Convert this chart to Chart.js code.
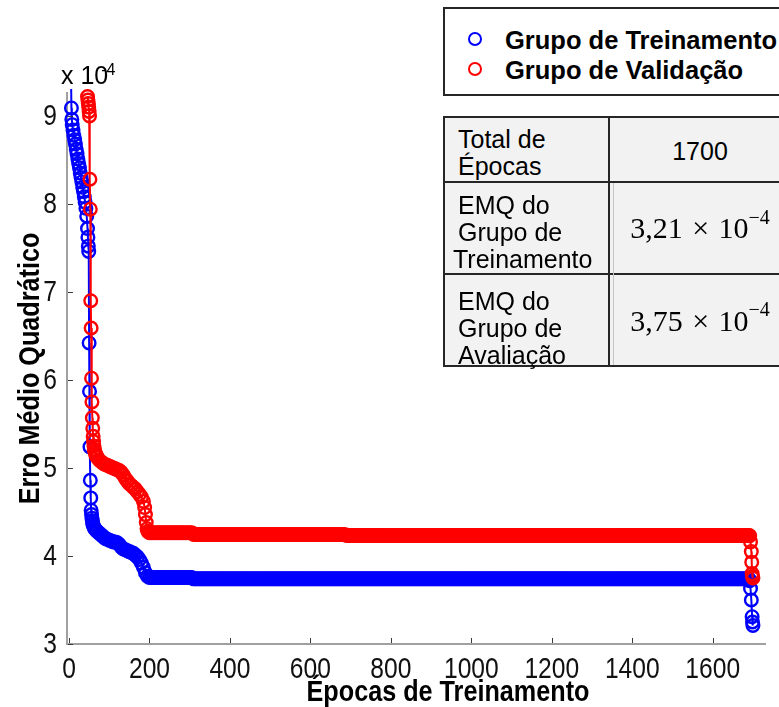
<!DOCTYPE html>
<html>
<head>
<meta charset="utf-8">
<script src="https://cdn.jsdelivr.net/npm/chart.js@4.4.1/dist/chart.umd.min.js"></script>
<style>
  html, body { margin: 0; padding: 0; background: #fff; }
  body { position: relative; width: 779px; height: 707px; overflow: hidden;
         font-family: 'Liberation Sans', Arial, sans-serif; color: #000; }
  canvas { position: absolute; left: 0; top: 0; }
  .abs { position: absolute; white-space: nowrap; }
  #expo { left: 61px; top: 60px; font-size: 25px; line-height: 30px; }
  #expo .sup { font-size: 16px; position: relative; top: -8.8px; margin-left: -7px; }
  #legendBox { left: 443px; top: 7px; width: 400px; height: 89px; box-sizing: border-box;
               border: 2px solid #262626; background: #fff; }
  .mark { position: absolute; width: 14px; height: 14px; box-sizing: border-box;
          border: 2.5px solid; border-radius: 50%; }
  .legText { position: absolute; left: 505px; font-weight: bold; font-size: 25.5px; line-height: 30px; white-space: nowrap; }
  #frame { left: 443px; top: 116px; width: 347px; height: 251px; box-sizing: border-box;
           border: 2px solid #262626; background: #f2f2f2; }
  .hline { position: absolute; left: 443px; width: 347px; height: 2px; background: #262626; }
  .vline { position: absolute; width: 2px; background: #262626; }
  .cellL { position: absolute; left: 458px; font-size: 25px; line-height: 27px; white-space: nowrap; }
  .cellR { position: absolute; left: 610px; width: 180px; display: flex; align-items: center;
           justify-content: center; white-space: nowrap; }
  .num { font-size: 25px; }
  .math { font-family: 'Liberation Serif', 'Times New Roman', serif; font-size: 30px; word-spacing: 2px; }
  .math .sup { font-size: 20px; position: relative; top: -11px; }
</style>
</head>
<body>
<canvas id="chart" width="779" height="707"></canvas>
<div id="expo" class="abs">x 10<span class="sup">-4</span></div>
<div id="legendBox" class="abs"></div>
<div id="legendItems"></div>
<div id="frame" class="abs"></div>
<div class="hline" style="top:181px"></div>
<div class="hline" style="top:273px"></div>
<div class="vline" style="left:608px; top:116px; height:251px"></div>
<div class="vline" style="left:613px; top:183px; height:182px; width:1px; background:#c4c4c4"></div>
<div class="cellL" style="top:126px">Total de<br>Épocas</div>
<div class="cellL" style="top:192px">EMQ do<br>Grupo de<br><span style="margin-left:-5px">Treinamento</span></div>
<div class="cellL" style="top:287.5px">EMQ do<br>Grupo de<br>Avaliação</div>
<div class="cellR num" id="totalCell" style="top:118.5px; height:65.7px"></div>
<div class="cellR math" id="trainCell" style="top:182.7px; height:91.3px"></div>
<div class="cellR math" id="valCell" style="top:275px; height:91.7px"></div>

<script>
// Mean squared error per training epoch, in units of 1e-4.
const xTicks = [0, 200, 400, 600, 800, 1000, 1200, 1400, 1600];
const yTicks = [3, 4, 5, 6, 7, 8, 9];

// Training set: first epochs (explicit epoch numbers)
const trainHeadEpochs = [4, 6, 7, 8, 10, 12, 14, 16, 18, 20, 22, 24, 26, 28, 30, 32, 34, 36, 38, 40,
  42, 44, 46, 47, 48, 49, 50, 51, 52, 53, 54, 55, 56, 57, 58, 59, 60, 62, 64, 66, 68, 70,
  75, 80, 85, 90, 95, 100, 105, 110, 115, 120, 125, 130, 135, 140, 145, 150, 155, 160,
  165, 170, 175, 180, 185, 190, 195];
const trainHeadValues = [9.8, 9.09, 8.96, 8.9, 8.84, 8.78, 8.73, 8.68, 8.62, 8.57, 8.51, 8.46, 8.41, 8.35, 8.3, 8.25, 8.19, 8.14, 8.08, 8.02,
  7.95, 7.86, 7.72, 7.62, 7.52, 7.46, 6.42, 5.87, 5.24, 4.86, 4.66, 4.52, 4.47, 4.43, 4.4, 4.37, 4.35, 4.33, 4.31, 4.3, 4.29, 4.28,
  4.26, 4.24, 4.22, 4.2, 4.19, 4.18, 4.17, 4.16, 4.16, 4.15, 4.13, 4.1, 4.08, 4.07, 4.06, 4.05, 4.04, 4.03,
  4.01, 3.99, 3.96, 3.92, 3.87, 3.81, 3.77];

// Validation set: first epochs
const valHeadEpochs = [46, 47, 48, 49, 50, 51, 52, 53, 54, 55, 56, 57, 58, 59, 60, 61, 62, 63, 64, 66, 68, 70,
  75, 80, 85, 90, 95, 100, 105, 110, 115, 120, 125, 130, 135, 140, 145, 150, 155, 160, 165, 170, 175, 180, 185,
  188, 190, 192, 194, 196];
const valHeadValues = [9.22, 9.18, 9.14, 9.1, 9.05, 9.0, 8.28, 7.94, 6.9, 6.59, 6.02, 5.75, 5.57, 5.45, 5.36, 5.3, 5.25, 5.21, 5.19, 5.16, 5.14, 5.12,
  5.09, 5.07, 5.05, 5.04, 5.03, 5.02, 5.01, 5.0, 4.99, 4.98, 4.97, 4.95, 4.92, 4.88, 4.85, 4.82, 4.8, 4.78, 4.76, 4.73, 4.7, 4.67, 4.62,
  4.55, 4.47, 4.38, 4.31, 4.28];

// Long flat stretch, one value every 5 epochs starting at epoch 200
const plateauStart = 200;
const plateauStep = 5;
const trainPlateau = [
  3.755, 3.755, 3.755, 3.755, 3.755, 3.755, 3.755, 3.755, 3.755, 3.755, 3.755, 3.755, 3.755, 3.755, 3.755, 3.755, 3.755, 3.755, 3.755, 3.755,
  3.755, 3.755, 3.74, 3.74, 3.74, 3.74, 3.74, 3.74, 3.74, 3.74, 3.74, 3.74, 3.74, 3.74, 3.74, 3.74, 3.74, 3.74, 3.74, 3.74,
  3.74, 3.74, 3.74, 3.74, 3.74, 3.74, 3.74, 3.74, 3.74, 3.74, 3.74, 3.74, 3.74, 3.74, 3.74, 3.74, 3.74, 3.74, 3.74, 3.74,
  3.74, 3.74, 3.74, 3.74, 3.74, 3.74, 3.74, 3.74, 3.74, 3.74, 3.74, 3.74, 3.74, 3.74, 3.74, 3.74, 3.74, 3.74, 3.74, 3.74,
  3.74, 3.74, 3.74, 3.74, 3.74, 3.74, 3.74, 3.74, 3.74, 3.74, 3.74, 3.74, 3.74, 3.74, 3.74, 3.74, 3.74, 3.74, 3.74, 3.74,
  3.74, 3.74, 3.74, 3.74, 3.74, 3.74, 3.74, 3.74, 3.74, 3.74, 3.74, 3.74, 3.74, 3.74, 3.74, 3.74, 3.74, 3.74, 3.74, 3.74,
  3.74, 3.74, 3.74, 3.74, 3.74, 3.74, 3.74, 3.74, 3.74, 3.74, 3.74, 3.74, 3.74, 3.74, 3.74, 3.74, 3.74, 3.74, 3.74, 3.74,
  3.74, 3.74, 3.74, 3.74, 3.74, 3.74, 3.74, 3.74, 3.74, 3.74, 3.74, 3.74, 3.74, 3.74, 3.74, 3.74, 3.74, 3.74, 3.74, 3.74,
  3.74, 3.74, 3.74, 3.74, 3.74, 3.74, 3.74, 3.74, 3.74, 3.74, 3.74, 3.74, 3.74, 3.74, 3.74, 3.74, 3.74, 3.74, 3.74, 3.74,
  3.74, 3.74, 3.74, 3.74, 3.74, 3.74, 3.74, 3.74, 3.74, 3.74, 3.74, 3.74, 3.74, 3.74, 3.74, 3.74, 3.74, 3.74, 3.74, 3.74,
  3.74, 3.74, 3.74, 3.74, 3.74, 3.74, 3.74, 3.74, 3.74, 3.74, 3.74, 3.74, 3.74, 3.74, 3.74, 3.74, 3.74, 3.74, 3.74, 3.74,
  3.74, 3.74, 3.74, 3.74, 3.74, 3.74, 3.74, 3.74, 3.74, 3.74, 3.74, 3.74, 3.74, 3.74, 3.74, 3.74, 3.74, 3.74, 3.74, 3.74,
  3.74, 3.74, 3.74, 3.74, 3.74, 3.74, 3.74, 3.74, 3.74, 3.74, 3.74, 3.74, 3.74, 3.74, 3.74, 3.74, 3.74, 3.74, 3.74, 3.74,
  3.74, 3.74, 3.74, 3.74, 3.74, 3.74, 3.74, 3.74, 3.74, 3.74, 3.74, 3.74, 3.74, 3.74, 3.74, 3.74, 3.74, 3.74, 3.74, 3.74,
  3.74, 3.74, 3.74, 3.74, 3.74, 3.74, 3.74, 3.74, 3.74, 3.74, 3.74, 3.74, 3.74, 3.74, 3.74, 3.74, 3.74, 3.74, 3.74
];
const valPlateau = [
  4.265, 4.265, 4.265, 4.265, 4.265, 4.265, 4.265, 4.265, 4.265, 4.265, 4.265, 4.265, 4.265, 4.265, 4.265, 4.265, 4.265, 4.265, 4.265, 4.265,
  4.265, 4.265, 4.245, 4.245, 4.245, 4.245, 4.245, 4.245, 4.245, 4.245, 4.245, 4.245, 4.245, 4.245, 4.245, 4.245, 4.245, 4.245, 4.245, 4.245,
  4.245, 4.245, 4.245, 4.245, 4.245, 4.245, 4.245, 4.245, 4.245, 4.245, 4.245, 4.245, 4.245, 4.245, 4.245, 4.245, 4.245, 4.245, 4.245, 4.245,
  4.245, 4.245, 4.245, 4.245, 4.245, 4.245, 4.245, 4.245, 4.245, 4.245, 4.245, 4.245, 4.245, 4.245, 4.245, 4.245, 4.245, 4.245, 4.245, 4.245,
  4.245, 4.245, 4.245, 4.245, 4.245, 4.245, 4.245, 4.245, 4.245, 4.245, 4.245, 4.245, 4.245, 4.245, 4.245, 4.245, 4.245, 4.245, 4.232, 4.232,
  4.232, 4.232, 4.232, 4.232, 4.232, 4.232, 4.232, 4.232, 4.232, 4.232, 4.232, 4.232, 4.232, 4.232, 4.232, 4.232, 4.232, 4.232, 4.232, 4.232,
  4.232, 4.232, 4.232, 4.232, 4.232, 4.232, 4.232, 4.232, 4.232, 4.232, 4.232, 4.232, 4.232, 4.232, 4.232, 4.232, 4.232, 4.232, 4.232, 4.232,
  4.232, 4.232, 4.232, 4.232, 4.232, 4.232, 4.232, 4.232, 4.232, 4.232, 4.232, 4.232, 4.232, 4.232, 4.232, 4.232, 4.232, 4.232, 4.232, 4.232,
  4.232, 4.232, 4.232, 4.232, 4.232, 4.232, 4.232, 4.232, 4.232, 4.232, 4.232, 4.232, 4.232, 4.232, 4.232, 4.232, 4.232, 4.232, 4.232, 4.232,
  4.232, 4.232, 4.232, 4.232, 4.232, 4.232, 4.232, 4.232, 4.232, 4.232, 4.232, 4.232, 4.232, 4.232, 4.232, 4.232, 4.232, 4.232, 4.232, 4.232,
  4.232, 4.232, 4.232, 4.232, 4.232, 4.232, 4.232, 4.232, 4.232, 4.232, 4.232, 4.232, 4.232, 4.232, 4.232, 4.232, 4.232, 4.232, 4.232, 4.232,
  4.232, 4.232, 4.232, 4.232, 4.232, 4.232, 4.232, 4.232, 4.232, 4.232, 4.232, 4.232, 4.232, 4.232, 4.232, 4.232, 4.232, 4.232, 4.232, 4.232,
  4.232, 4.232, 4.232, 4.232, 4.232, 4.232, 4.232, 4.232, 4.232, 4.232, 4.232, 4.232, 4.232, 4.232, 4.232, 4.232, 4.232, 4.232, 4.232, 4.232,
  4.232, 4.232, 4.232, 4.232, 4.232, 4.232, 4.232, 4.232, 4.232, 4.232, 4.232, 4.232, 4.232, 4.232, 4.232, 4.232, 4.232, 4.232, 4.232, 4.232,
  4.232, 4.232, 4.232, 4.232, 4.232, 4.232, 4.232, 4.232, 4.232, 4.232, 4.232, 4.232, 4.232, 4.232, 4.232, 4.232, 4.232, 4.232, 4.232
];

// Final epochs
const trainTailEpochs = [1692, 1694, 1696, 1698, 1699, 1700];
const trainTailValues = [3.72, 3.63, 3.5, 3.31, 3.25, 3.21];
const valTailEpochs = [1692, 1694, 1696, 1697, 1698, 1699, 1700];
const valTailValues = [4.23, 4.16, 4.05, 3.93, 3.8, 3.77, 3.75];

const seriesLabels = ['Grupo de Treinamento', 'Grupo de Validação'];
const seriesColors = ['#0000ff', '#ff0000'];
const xTitle = 'Épocas de Treinamento';
const yTitle = 'Erro Médio Quadrático';

const SANS = "'Liberation Sans', Arial, sans-serif";

function buildSeries(headE, headV, plateau, tailE, tailV) {
  const pts = headE.map((e, i) => ({ x: e, y: headV[i] }));
  plateau.forEach((v, i) => pts.push({ x: plateauStart + i * plateauStep, y: v }));
  tailE.forEach((e, i) => pts.push({ x: e, y: tailV[i] }));
  return pts;
}

function seriesStyle(color, order) {
  return {
    borderColor: color, backgroundColor: color, borderWidth: 2,
    pointStyle: 'circle', pointRadius: 6.3, pointBorderWidth: 2.4,
    pointBorderColor: color, pointBackgroundColor: 'rgba(0,0,0,0)',
    pointHoverRadius: 6.3, fill: false, tension: 0, showLine: true,
    clip: { left: 12, top: 4, right: 20, bottom: 12 }, order
  };
}

// Condensed text: the narrow look comes from a horizontal squeeze of Liberation Sans
function squeezedText(ctx, text, x, y, align, sx, rot) {
  ctx.save();
  ctx.translate(x, y);
  if (rot) ctx.rotate(rot);
  ctx.scale(sx, 1);
  ctx.textAlign = align;
  ctx.fillText(text, 0, 0);
  ctx.restore();
}

// Inside tick marks, tick labels and axis titles
const axisDecor = {
  id: 'axisDecor',
  afterDraw(chart) {
    const { ctx, chartArea: a, scales: { x, y } } = chart;
    ctx.save();
    ctx.strokeStyle = '#3a3a3a';
    ctx.lineWidth = 1;
    ctx.beginPath();
    x.ticks.forEach(t => {
      const px = Math.round(x.getPixelForValue(t.value)) + 0.5;
      ctx.moveTo(px, a.bottom - 1); ctx.lineTo(px, a.bottom - 6);
    });
    y.ticks.forEach(t => {
      const py = Math.round(y.getPixelForValue(t.value)) + 0.5;
      ctx.moveTo(a.left + 1, py); ctx.lineTo(a.left + 6, py);
    });
    ctx.stroke();

    ctx.fillStyle = '#111';
    ctx.textBaseline = 'alphabetic';
    ctx.font = '30px ' + SANS;
    x.ticks.forEach(t => {
      squeezedText(ctx, String(t.value), x.getPixelForValue(t.value), a.bottom + 33.5, 'center', 0.82);
    });
    y.ticks.forEach(t => {
      squeezedText(ctx, String(t.value), a.left - 10, y.getPixelForValue(t.value) + 8.75, 'right', 0.82);
    });

    ctx.fillStyle = '#000';
    ctx.font = 'bold 30px ' + SANS;
    squeezedText(ctx, xTitle, 448, 701, 'center', 0.84);
    squeezedText(ctx, yTitle, 39, (a.top + a.bottom) / 2, 'center', 0.84, -Math.PI / 2);
    ctx.restore();
  }
};

const chart = new Chart(document.getElementById('chart'), {
  type: 'line',
  data: {
    datasets: [
      Object.assign({ label: seriesLabels[0],
        data: buildSeries(trainHeadEpochs, trainHeadValues, trainPlateau, trainTailEpochs, trainTailValues) },
        seriesStyle(seriesColors[0], 2)),
      Object.assign({ label: seriesLabels[1],
        data: buildSeries(valHeadEpochs, valHeadValues, valPlateau, valTailEpochs, valTailValues) },
        seriesStyle(seriesColors[1], 1))
    ]
  },
  options: {
    responsive: false,
    animation: false,
    devicePixelRatio: 1,
    layout: { padding: { left: 0, top: 93, right: 14, bottom: 0 } },
    plugins: { legend: { display: false }, tooltip: { enabled: false } },
    scales: {
      x: {
        type: 'linear', min: -5, max: 1730,
        afterBuildTicks: s => { s.ticks = xTicks.map(v => ({ value: v })); },
        afterFit: s => { s.height = 63; },
        grid: { display: false, drawTicks: false },
        border: { display: true, color: '#a0a0a0', width: 2 },
        ticks: { display: false }
      },
      y: {
        type: 'linear', min: 3, max: 9.26,
        afterBuildTicks: s => { s.ticks = yTicks.map(v => ({ value: v })); },
        afterFit: s => { s.width = 67; },
        grid: { display: false, drawTicks: false },
        border: { display: true, color: '#a0a0a0', width: 2 },
        ticks: { display: false }
      }
    }
  },
  plugins: [axisDecor]
});

// Legend built from the chart's own legend items
const legendHolder = document.getElementById('legendItems');
const items = Chart.defaults.plugins.legend.labels.generateLabels(chart)
  .sort((a, b) => a.datasetIndex - b.datasetIndex);
items.forEach((it, i) => {
  const cy = 39 + i * 30;
  const m = document.createElement('div');
  m.className = 'mark';
  m.style.left = (475 - 7) + 'px';
  m.style.top = (cy - 7) + 'px';
  m.style.borderColor = it.strokeStyle;
  legendHolder.appendChild(m);
  const t = document.createElement('div');
  t.className = 'legText';
  t.style.top = (24.6 + i * 30) + 'px';
  t.textContent = it.text;
  legendHolder.appendChild(t);
});

// Summary table from the final epoch of each series
const fmt = v => v.toFixed(2).replace('.', ',');
document.getElementById('totalCell').textContent = String(trainTailEpochs[trainTailEpochs.length - 1]);
document.getElementById('trainCell').innerHTML =
  fmt(trainTailValues[trainTailValues.length - 1]) + ' × 10<span class="sup">−4</span>';
document.getElementById('valCell').innerHTML =
  fmt(valTailValues[valTailValues.length - 1]) + ' × 10<span class="sup">−4</span>';
</script>
</body>
</html>
